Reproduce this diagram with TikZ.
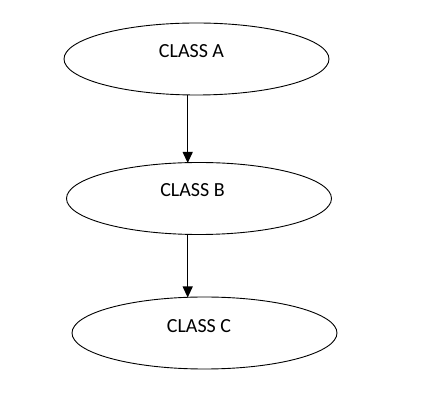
\documentclass[tikz,border=0pt]{standalone}
\usepackage{fontspec}
\setmainfont{Carlito}
\usetikzlibrary{shapes.geometric,arrows.meta}
\begin{document}
\begin{tikzpicture}[x=1pt,y=1pt,
  classbox/.style={draw=black,line width=0.9pt,ellipse,minimum width=265pt,minimum height=72pt,inner sep=0pt},
  classtext/.style={inner sep=0pt,font=\fontsize{20}{24}\selectfont,text=black},
  link/.style={line width=1.1pt,-{Triangle[length=11pt,width=10pt]}}]
\useasboundingbox (0,0) rectangle (437,-411);
\node[classbox] (A) at (196.5,-59) {};
\node[classbox] (B) at (199,-198.5) {};
\node[classbox] (C) at (204.5,-333) {};
\node[classtext] (ta) at (191.5,-51.5) {CLASS A};
\node[classtext] (tb) at (192.5,-190.5) {CLASS B};
\node[classtext] (tc) at (199,-326) {CLASS C};
\coordinate (a1) at (187.7,-95);
\coordinate (b1) at (187.7,-163);
\coordinate (b2) at (187.7,-234);
\coordinate (c1) at (187.7,-297.5);
\draw[link] (a1) -- (b1);
\draw[link] (b2) -- (c1);
\end{tikzpicture}
\end{document}
